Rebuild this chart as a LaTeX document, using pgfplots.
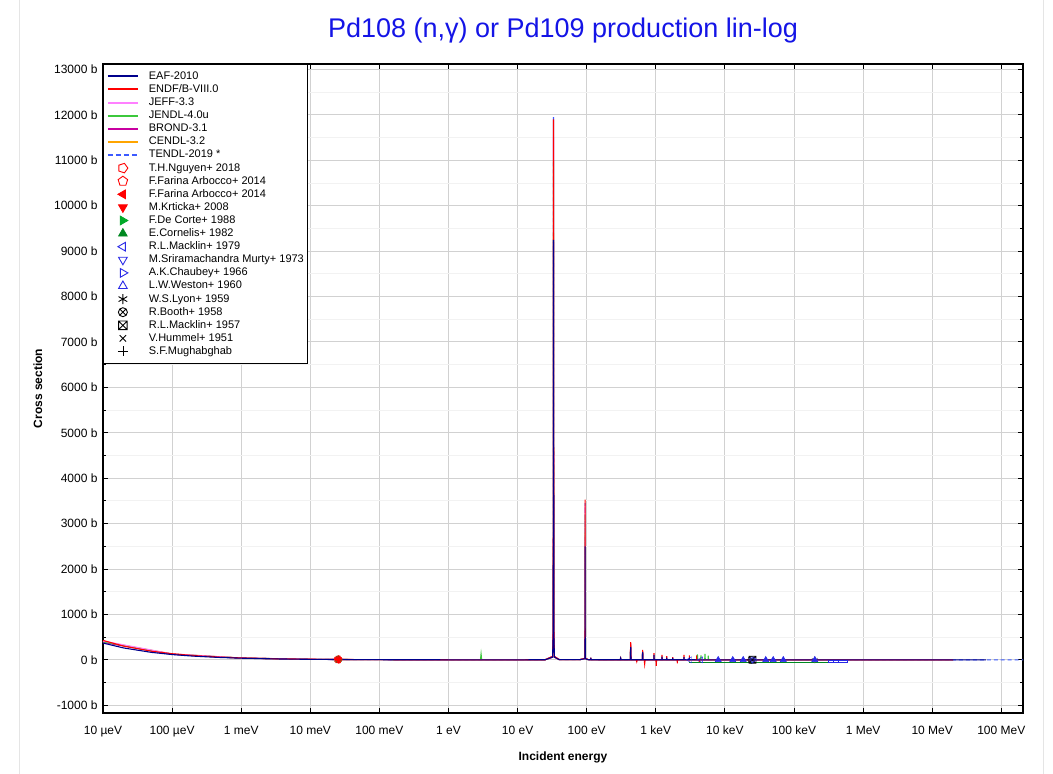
\documentclass[border=0pt]{standalone}
\usepackage{fontspec}
\setmainfont{Liberation Sans}
\usepackage{pgfplots}
\pgfplotsset{compat=1.18}
\usetikzlibrary{plotmarks}
\definecolor{eaf}{RGB}{0,0,140}
\definecolor{endf}{RGB}{255,0,0}
\definecolor{jeff}{RGB}{255,128,255}
\definecolor{jendl}{RGB}{60,200,60}
\definecolor{brond}{RGB}{200,0,160}
\definecolor{cendl}{RGB}{255,165,0}
\definecolor{tendl}{RGB}{60,90,255}
\definecolor{expblue}{RGB}{40,40,230}
\definecolor{expgreen}{RGB}{0,170,40}
\definecolor{titleblue}{RGB}{20,20,230}
\pgfdeclareplotmark{boxx}{%
  \pgfpathrectangle{\pgfqpoint{-\pgfplotmarksize}{-\pgfplotmarksize}}{\pgfqpoint{2\pgfplotmarksize}{2\pgfplotmarksize}}%
  \pgfpathmoveto{\pgfqpoint{-\pgfplotmarksize}{-\pgfplotmarksize}}\pgfpathlineto{\pgfqpoint{\pgfplotmarksize}{\pgfplotmarksize}}%
  \pgfpathmoveto{\pgfqpoint{-\pgfplotmarksize}{\pgfplotmarksize}}\pgfpathlineto{\pgfqpoint{\pgfplotmarksize}{-\pgfplotmarksize}}%
  \pgfusepathqstroke}
\begin{document}
\begin{tikzpicture}
\path[use as bounding box] (0,0) rectangle (1053bp,774bp);
\draw[black!10, line width=1pt] (19bp,0) -- (19bp,774bp);
\draw[black!10, line width=1pt] (1043bp,0) -- (1043bp,774bp);
\begin{axis}[
  at={(103bp,61bp)}, anchor=south west,
  width=920bp, height=649bp, scale only axis,
  xmode=log, xmin=1e-5, xmax=2.06e8, ymin=-1170, ymax=13120,
  scaled y ticks=false,
  xtick={1e-5,1e-4,1e-3,1e-2,1e-1,1,10,100,1e3,1e4,1e5,1e6,1e7,1e8},
  xticklabels={10 µeV,100 µeV,1 meV,10 meV,100 meV,1 eV,10 eV,100 eV,1 keV,10 keV,100 keV,1 MeV,10 MeV,100 MeV},
  xminorticks=false,
  ytick={-1000,0,...,13000},
  yticklabels={-1000 b,0 b,1000 b,2000 b,3000 b,4000 b,5000 b,6000 b,7000 b,8000 b,9000 b,10000 b,11000 b,12000 b,13000 b},
  minor ytick={-500,500,...,12500},
  xmajorgrids, ymajorgrids, yminorgrids,
  major grid style={color=black!18, line width=0.9pt},
  minor grid style={color=black!5, line width=0.9pt},
  axis line style={line width=1.3pt},
  tick style={black, line width=0.9pt},
  major tick length=5bp, minor tick length=3bp,
  tick align=inside,
  ticklabel style={font=\fontsize{12bp}{14bp}\selectfont},
  xticklabel style={anchor=north, text height=9bp, text depth=2.5bp, yshift=-9bp},
  yticklabel style={xshift=-2bp},
  title={Pd108 (n,γ) or Pd109 production lin-log},
  title style={font=\fontsize{27bp}{31bp}\selectfont, text=titleblue, at={(axis description cs:0.5,1)}, anchor=center, yshift=27bp},
  xlabel={Incident energy},
  xlabel style={font=\bfseries\fontsize{12bp}{14bp}\selectfont, at={(axis description cs:0.5,-0.0678)}, anchor=center},
  ylabel={Cross section},
  ylabel style={font=\bfseries\fontsize{12bp}{14bp}\selectfont, at={(axis description cs:-0.0707,0.5)}, anchor=center},
  legend image code/.code={\draw[mark repeat=2,mark phase=2,#1] plot coordinates {(0bp,0bp) (15bp,0bp) (30bp,0bp)};},
  legend cell align=left,
  legend style={at={(0,1)}, anchor=north west, draw=black, line width=0.8pt,
    font=\fontsize{11bp}{13bp}\selectfont, inner xsep=3.5bp, inner ysep=6.5bp,
    nodes={inner sep=0bp, text height=8.5bp, text depth=2.5bp},
    row sep=2.1bp, column sep=10bp, fill=white},
]
% ---------------- evaluations (bottom to top) ----------------
\addplot[color=tendl, line width=1.1pt, dash pattern=on 4pt off 3pt, forget plot] coordinates {
(1e-5,393.3)(1e-4,124.4)(1e-3,39.3)(1e-2,12.4)(2.53e-2,7.82)(0.1,3.94)(1,1.25)(10,0.8)(25,3)
(32.1,76)(32.8,790)(33.1,11950)(33.4,790)(34.1,76)(40,6)(80,5)
(93.9,35)(94.7,690)(94.9,3450)(95.1,690)(95.9,35)(105,4)
(1e3,1)(1e4,0.3)(1e5,0.15)(1e6,0.08)(1e7,0.002)(1e8,0.001)(2.06e8,0.001)};
\addplot[color=cendl, line width=1.1pt, forget plot] coordinates {
(1e-5,406)(1e-4,128.4)(1e-3,40.6)(1e-2,12.8)(2.53e-2,8.08)(0.1,4.06)(1,1.3)(10,0.8)(25,3)
(32.1,60)(32.8,620)(33.1,9400)(33.4,620)(34.1,60)(40,6)(80,5)
(93.9,28)(94.7,560)(94.9,2800)(95.1,560)(95.9,28)(105,4)
(1e3,1)(1e4,0.3)(1e5,0.15)(1e6,0.08)(1e7,0.002)(2e7,0.001)};
\addplot[color=brond, line width=1.1pt, forget plot] coordinates {
(1e-5,384.8)(1e-4,121.7)(1e-3,38.5)(1e-2,12.2)(2.53e-2,7.65)(0.1,3.85)(1,1.2)(10,0.8)(25,3)
(32.1,60)(32.8,610)(33.1,9200)(33.4,610)(34.1,60)(40,6)(80,5)
(93.9,27)(94.7,540)(94.9,2700)(95.1,540)(95.9,27)(105,4)
(428,2)(433,300)(438,2)(638,2)(645,160)(652,2)
(1e3,1)(1e4,0.3)(1e5,0.15)(1e6,0.08)(1e7,0.002)(2e7,0.001)};
\addplot[color=jendl, line width=1.1pt, forget plot] coordinates {
(1e-5,397.6)(1e-4,125.7)(1e-3,39.8)(1e-2,12.6)(2.53e-2,7.9)(0.1,4.0)(1,1.3)
(2.90,1.5)(2.96,130)(3.02,1.5)(10,0.8)(25,3)
(32.1,70)(32.8,720)(33.1,11000)(33.4,720)(34.1,70)(40,6)(80,5)
(93.9,32)(94.7,640)(94.9,3200)(95.1,640)(95.9,32)(105,4)
(428,2)(433,330)(438,2)(638,2)(645,190)(652,2)(1e3,1)
(3950,1)(4000,120)(4050,1)(4450,1)(4500,100)(4550,1)(5100,1)(5150,130)(5200,1)(5700,1)(5750,90)(5800,1)
(1e4,0.3)(1e5,0.15)(1e6,0.08)(1e7,0.002)(2e7,0.001)};
\addplot[color=jeff, line width=1.1pt, forget plot] coordinates {
(1e-5,414.7)(1e-4,131.1)(1e-3,41.5)(1e-2,13.1)(2.53e-2,8.25)(0.1,4.15)(1,1.3)(10,0.8)(25,3)
(32.1,74)(32.8,760)(33.1,11500)(33.4,760)(34.1,74)(40,6)(80,5)
(93.9,34)(94.7,680)(94.9,3400)(95.1,680)(95.9,34)(105,4)
(428,2)(433,360)(438,2)(638,2)(645,210)(652,2)
(1e3,1)(1e4,0.3)(1e5,0.15)(1e6,0.08)(1e7,0.002)(2e7,0.001)};
\addplot[color=endf, line width=1.1pt, forget plot] coordinates {
(1e-5,427.5)(2e-5,302.3)(5e-5,191.2)(1e-4,135.2)(2e-4,95.6)(5e-4,60.5)(1e-3,42.8)(3e-3,24.7)
(1e-2,13.5)(2.53e-2,8.5)(0.1,4.3)(0.3,2.5)(1,1.4)(3,0.9)(10,0.8)(25,3)
(32.1,76)(32.8,785)(33.1,11900)(33.4,785)(34.1,76)(40,6)(80,5)
(93.9,35)(94.7,700)(94.9,3530)(95.1,700)(95.9,35)(105,4)
(113,3)(115,30)(117,3)(305,1.5)(310,40)(315,1.5)(428,2)(433,390)(438,2)
(520,1)(530,-40)(540,1)(638,2)(645,220)(652,2)(680,1)(690,-90)(700,1)
(935,2)(942,147)(949,2)(1005,1)(1015,-130)(1025,1)(1220,2)(1230,110)(1240,2)
(1430,2)(1440,80)(1450,2)(1750,2)(1760,60)(1770,2)(2040,1)(2050,-75)(2060,1)
(2550,2)(2560,110)(2570,2)(3050,2)(3060,100)(3070,2)(3890,2)(3900,100)(3910,2)
(4240,1)(4250,-50)(4260,1)(5000,0.5)(1e4,0.3)(1e5,0.15)(1e6,0.08)(1e7,0.002)(2e7,0.001)};
\addplot[color=eaf, line width=1.1pt, forget plot] coordinates {
(1e-5,370)(2e-5,261.6)(5e-5,165.4)(1e-4,117)(2e-4,82.7)(5e-4,52.3)(1e-3,37)(3e-3,21.4)
(1e-2,11.7)(2.53e-2,7.4)(0.1,3.7)(0.3,2.15)(1,1.2)(3,0.8)(10,0.7)(25,2.5)
(32.1,59)(32.8,610)(33.1,9250)(33.4,610)(34.1,59)(40,5)(80,4)
(93.9,25)(94.7,500)(94.9,2500)(95.1,500)(95.9,25)(105,3)
(113,3)(115,30)(117,3)(305,1.5)(310,40)(315,1.5)(428,2)(433,280)(438,2)
(638,2)(645,170)(652,2)(935,2)(942,110)(949,2)(1220,2)(1230,70)(1240,2)
(1430,2)(1440,50)(1450,2)(1750,2)(1760,40)(1770,2)(2550,2)(2560,60)(2570,2)
(3050,2)(3060,50)(3070,2)(5000,0.5)(1e4,0.3)(1e5,0.15)(1e6,0.08)(1e7,0.002)(6e7,0.001)};
% ---------------- experimental data ----------------
\addplot[color=expgreen!80!black, line width=1.1pt, forget plot] coordinates {(3e3,-50)(3.16e5,-50)};
\addplot[color=expblue, line width=0.8pt, forget plot] coordinates {(3.16e5,-5)(6e5,-5)(6e5,-45)(3.16e5,-45)(3.16e5,-5)};
\addplot[color=expblue, line width=0.8pt, forget plot] coordinates {(3.7e5,-5)(3.7e5,-45)};
\addplot[color=expblue, line width=0.8pt, forget plot] coordinates {(4.4e5,-5)(4.4e5,-45)};
\addplot[color=black, only marks, mark=+, mark size=3.5bp, forget plot] coordinates {(0.0253,8.5)};
\addplot[color=black, only marks, mark=x, mark size=3bp, forget plot] coordinates {(0.0253,8.3)};
\addplot[color=black, only marks, mark=boxx, mark size=3.5bp, mark options={line width=0.8pt}, forget plot] coordinates {(2.5e4,0.25)};
\addplot[color=black, only marks, mark=otimes, mark size=3.5bp, forget plot] coordinates {(2.4e4,0.3)};
\addplot[color=black!60, only marks, mark=asterisk, mark size=3.5bp, forget plot] coordinates {(2e5,0.1)};
\addplot[color=expblue, only marks, mark=triangle*, mark size=3.5bp, forget plot] coordinates {(8e3,0.4)(1.3e4,0.35)(1.84e4,0.3)(3.9e4,0.25)(5e4,0.2)(7e4,0.18)(2e5,0.12)};
\addplot[color=expblue, only marks, mark=triangle, mark size=3.5bp, mark options={rotate=-90}, forget plot] coordinates {(2.6e4,0.3)};
\addplot[color=expblue, only marks, mark=triangle, mark size=3.5bp, mark options={rotate=180}, forget plot] coordinates {(2.5e4,0.25)};
\addplot[color=expblue, only marks, mark=triangle, mark size=3.5bp, mark options={rotate=90}, forget plot] coordinates {(3.1e3,0.5)(4.5e3,0.4)};
\addplot[color=expgreen, only marks, mark=triangle*, mark size=4bp, forget plot] coordinates {(0.0253,8.0)};
\addplot[color=expgreen, only marks, mark=triangle*, mark size=4bp, mark options={rotate=-90}, forget plot] coordinates {(0.0253,8.2)};
\addplot[color=endf, only marks, mark=triangle*, mark size=4bp, mark options={rotate=180}, forget plot] coordinates {(0.0253,8.4)};
\addplot[color=endf, only marks, mark=triangle*, mark size=4bp, mark options={rotate=90}, forget plot] coordinates {(0.0253,8.6)};
\addplot[color=endf, only marks, mark=pentagon, mark size=4bp, forget plot] coordinates {(0.0253,8.5)};
\addplot[color=endf, only marks, mark=pentagon, mark size=4bp, mark options={rotate=-90}, forget plot] coordinates {(0.0253,8.3)};
% ---------------- legend ----------------
\addlegendimage{color=eaf, line width=2bp}\addlegendentry{EAF-2010}
\addlegendimage{color=endf, line width=2bp}\addlegendentry{ENDF/B-VIII.0}
\addlegendimage{color=jeff, line width=2bp}\addlegendentry{JEFF-3.3}
\addlegendimage{color=jendl, line width=2bp}\addlegendentry{JENDL-4.0u}
\addlegendimage{color=brond, line width=2bp}\addlegendentry{BROND-3.1}
\addlegendimage{color=cendl, line width=2bp}\addlegendentry{CENDL-3.2}
\addlegendimage{color=tendl, line width=2bp, dash pattern=on 5pt off 3pt}\addlegendentry{TENDL-2019 *}
\addlegendimage{only marks, color=endf, mark=pentagon, mark size=5bp, mark options={rotate=-90, line width=0.9pt}}\addlegendentry{T.H.Nguyen+ 2018}
\addlegendimage{only marks, color=endf, mark=pentagon, mark size=5bp, mark options={line width=0.9pt}}\addlegendentry{F.Farina Arbocco+ 2014}
\addlegendimage{only marks, color=endf, mark=triangle*, mark size=5bp, mark options={rotate=90}}\addlegendentry{F.Farina Arbocco+ 2014}
\addlegendimage{only marks, color=endf, mark=triangle*, mark size=5bp, mark options={rotate=180}}\addlegendentry{M.Krticka+ 2008}
\addlegendimage{only marks, color=expgreen, mark=triangle*, mark size=5bp, mark options={rotate=-90}}\addlegendentry{F.De Corte+ 1988}
\addlegendimage{only marks, color=expgreen!80!black, mark=triangle*, mark size=5bp}\addlegendentry{E.Cornelis+ 1982}
\addlegendimage{only marks, color=expblue, mark=triangle, mark size=5bp, mark options={rotate=90, line width=0.9pt}}\addlegendentry{R.L.Macklin+ 1979}
\addlegendimage{only marks, color=expblue, mark=triangle, mark size=5bp, mark options={rotate=180, line width=0.9pt}}\addlegendentry{M.Sriramachandra Murty+ 1973}
\addlegendimage{only marks, color=expblue, mark=triangle, mark size=5bp, mark options={rotate=-90, line width=0.9pt}}\addlegendentry{A.K.Chaubey+ 1966}
\addlegendimage{only marks, color=expblue, mark=triangle, mark size=5bp, mark options={line width=0.9pt}}\addlegendentry{L.W.Weston+ 1960}
\addlegendimage{only marks, color=black, mark=asterisk, mark size=5bp, mark options={line width=0.9pt}}\addlegendentry{W.S.Lyon+ 1959}
\addlegendimage{only marks, color=black, mark=otimes, mark size=4.5bp, mark options={line width=0.9pt}}\addlegendentry{R.Booth+ 1958}
\addlegendimage{only marks, color=black, mark=boxx, mark size=4.3bp, mark options={line width=0.9pt}}\addlegendentry{R.L.Macklin+ 1957}
\addlegendimage{only marks, color=black, mark=x, mark size=4.5bp, mark options={line width=0.9pt}}\addlegendentry{V.Hummel+ 1951}
\addlegendimage{only marks, color=black, mark=+, mark size=5bp, mark options={line width=0.7pt}}\addlegendentry{S.F.Mughabghab}
\end{axis}
\end{tikzpicture}
\end{document}
